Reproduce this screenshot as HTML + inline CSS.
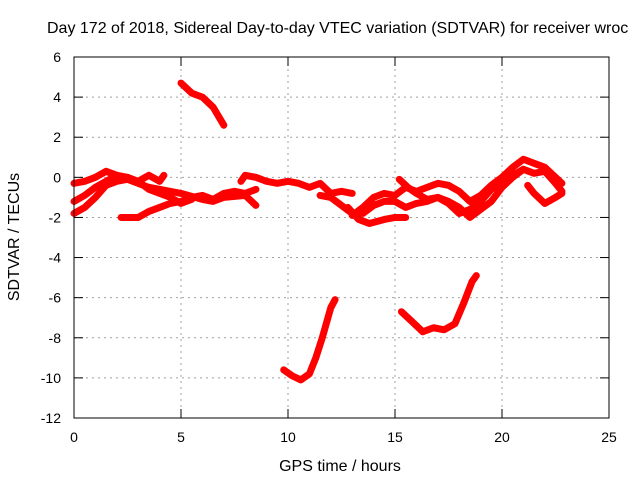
<!DOCTYPE html>
<html><head><meta charset="utf-8"><style>
body{margin:0;background:#fff}
svg text{font-family:"Liberation Sans",sans-serif;font-size:14px;fill:#000}
svg text.big{font-size:16px}
</style></head><body>
<svg width="640" height="480">
<rect width="640" height="480" fill="#fff"/>
<text class="big" x="47" y="33">Day 172 of 2018, Sidereal Day-to-day VTEC variation (SDTVAR) for receiver wroc</text>
<g id="grid"></g>
<g id="series"></g>
<rect x="74" y="57" width="535" height="361" fill="none" stroke="#000"/>
<g id="ticks"></g>
<text class="big" x="340" y="471" text-anchor="middle">GPS time / hours</text>
<text class="big" transform="translate(19,237) rotate(-90)" text-anchor="middle">SDTVAR / TECUs</text>
</svg>
<script>
const xTicks=[0,5,10,15,20,25];
const yTicks=[6,4,2,0,-2,-4,-6,-8,-10,-12];
const seriesA=[[0,-1.2],[0.5,-0.9],[1,-0.5],[1.5,-0.2],[2,0.1],[2.5,0],[3,-0.2],[3.5,-0.6],[4,-0.8],[4.5,-1],[5,-1.3],[5.5,-1.1]];
const seriesB=[[0,-1.8],[0.5,-1.5],[1,-1],[1.5,-0.4],[2,-0.2],[2.5,-0.1],[3,-0.3],[3.5,-0.5],[4,-0.6],[5,-0.8],[6,-1.1],[6.5,-1.2],[7,-1.0],[8,-0.9],[8.5,-1.4]];
const seriesC=[[0,-0.3],[0.5,-0.2],[1,0],[1.5,0.3],[2,0.1],[3,-0.2],[3.5,0.1],[4,-0.2],[4.2,0.1]];
const seriesD=[[2.2,-2],[3,-2],[3.5,-1.7],[4,-1.5],[4.5,-1.3],[5,-1.2],[5.5,-1.0],[6,-0.9],[6.5,-1.1],[7,-0.8],[7.5,-0.7],[8,-0.8],[8.5,-0.6]];
const seriesE=[[5,4.7],[5.5,4.2],[6,4],[6.5,3.5],[7,2.6]];
const seriesF=[[7.8,-0.2],[8,0.1],[8.5,0],[9,-0.2],[9.5,-0.3],[10,-0.2],[10.5,-0.3],[11,-0.5],[11.5,-0.3],[12,-0.8],[12.5,-0.7],[13,-0.8]];
const seriesG=[[9.8,-9.6],[10.2,-9.9],[10.6,-10.1],[11,-9.8],[11.3,-9],[11.6,-8],[12,-6.5],[12.2,-6.1]];
const seriesH=[[11.5,-0.9],[12,-1],[12.5,-1.4],[13,-1.8],[13.5,-1.8],[14,-1.4],[14.5,-1.2],[15,-1.2],[15.5,-1.5],[16,-1.3],[16.5,-1.2],[17,-1.0],[17.5,-1.3],[18,-1.8],[18.5,-1.6],[19,-1.2],[19.5,-0.6],[20,-0.3],[20.5,0.1],[21,0.4],[21.5,0.2],[22,0.3],[22.5,-0.3],[22.8,-0.7]];
const seriesI=[[12.8,-1.5],[13.3,-2.1],[13.8,-2.3],[14.5,-2.1],[15,-2.0],[15.5,-2.0]];
const seriesJ=[[13,-1.9],[13.5,-1.5],[14,-1.0],[14.5,-0.8],[15,-0.9],[15.5,-0.5],[16,-0.7],[16.5,-0.5],[17,-0.3],[17.5,-0.4],[18,-0.7],[18.5,-1.2],[19,-0.9],[19.5,-0.4],[20,0],[20.5,0.5],[21,0.9],[21.5,0.7],[22,0.5],[22.5,0],[22.8,-0.3]];
const seriesK=[[15.2,-0.1],[15.6,-0.5],[16,-0.8],[16.5,-1.1],[17,-1.0],[17.5,-1.2],[18,-1.5],[18.5,-2],[19,-1.6],[19.5,-1.2],[20,-0.5],[20.5,0],[21,0.4]];
const seriesL=[[15.3,-6.7],[15.8,-7.2],[16.3,-7.7],[16.8,-7.5],[17.3,-7.6],[17.8,-7.3],[18.2,-6.3],[18.6,-5.2],[18.8,-4.9]];
const seriesM=[[21.2,-0.4],[21.5,-0.8],[22,-1.3],[22.5,-1.0],[22.8,-0.8]];
const allSeries=[seriesA,seriesB,seriesC,seriesD,seriesE,seriesF,seriesG,seriesH,seriesI,seriesJ,seriesK,seriesL,seriesM];
const NS="http://www.w3.org/2000/svg";
const X=h=>74+h*535/25, Y=v=>57+(6-v)*361/18;
const grid=document.getElementById('grid'), ticks=document.getElementById('ticks'), sg=document.getElementById('series');
function mk(tag,attrs,parent){const e=document.createElementNS(NS,tag);for(const k in attrs)e.setAttribute(k,attrs[k]);parent.appendChild(e);return e;}
xTicks.forEach(t=>{const x=X(t);
 if(t>0&&t<25){const l=mk('line',{x1:x,x2:x,y1:57,y2:418,stroke:'#a0a0a0','stroke-dasharray':'2,4'},grid);}
 mk('line',{x1:x,x2:x,y1:418,y2:409,stroke:'#000'},ticks);mk('line',{x1:x,x2:x,y1:57,y2:66,stroke:'#000'},ticks);
 const tx=mk('text',{x:x,y:442,'text-anchor':'middle'},ticks);tx.textContent=t;
 
 });
yTicks.forEach(t=>{const y=Y(t);
 if(t<6&&t>-12){const l=mk('line',{x1:74,x2:609,y1:y,y2:y,stroke:'#a0a0a0','stroke-dasharray':'2,4'},grid);}
 mk('line',{x1:74,x2:83,y1:y,y2:y,stroke:'#000'},ticks);mk('line',{x1:609,x2:600,y1:y,y2:y,stroke:'#000'},ticks);
 const tx=mk('text',{x:61,y:y+5,'text-anchor':'end'},ticks);tx.textContent=t;
 
 });
allSeries.forEach((s,i)=>{
 const p=mk('polyline',{points:s.map(d=>X(d[0])+','+Y(d[1])).join(' '),fill:'none',stroke:'#ff0000','stroke-width':7,'stroke-linejoin':'round','stroke-linecap':'round'},sg);
 
 
});
</script>
</body></html>
